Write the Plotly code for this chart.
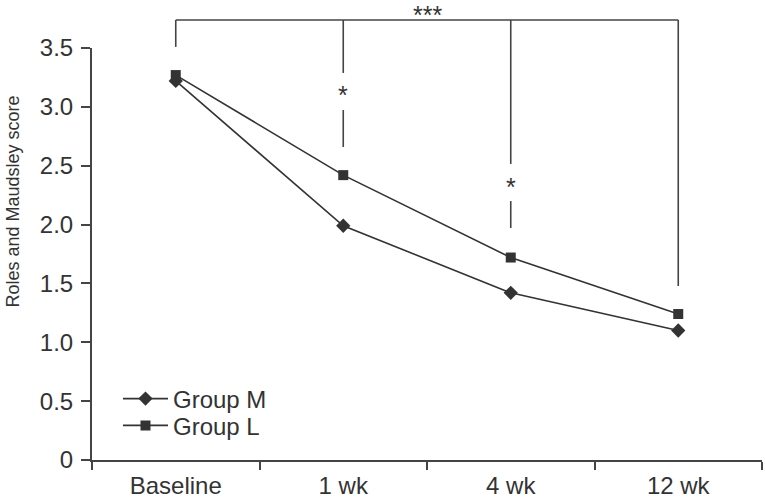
import plotly.graph_objects as go

categories = ["Baseline", "1 wk", "4 wk", "12 wk"]
group_m = [3.22, 1.99, 1.42, 1.10]
group_l = [3.27, 2.42, 1.72, 1.24]
y_tickvals = [0, 0.5, 1.0, 1.5, 2.0, 2.5, 3.0, 3.5]
y_ticktext = ["0", "0.5", "1.0", "1.5", "2.0", "2.5", "3.0", "3.5"]

Y_MAX = 3.5
INK = "#333333"
FONT = "Liberation Sans, Arial, sans-serif"

fig = go.Figure()
fig.add_trace(go.Scatter(x=categories, y=group_m, name="Group M", mode="lines+markers",
                         line=dict(color=INK, width=1.6), legend="legend",
                         marker=dict(symbol="diamond", size=11, color=INK)))
fig.add_trace(go.Scatter(x=categories, y=group_l, name="Group L", mode="lines+markers",
                         line=dict(color=INK, width=1.6), legend="legend2",
                         marker=dict(symbol="square", size=10, color=INK)))

# significance brackets (levels in data units, converted to paper fraction)
def p(v):
    return v / Y_MAX

top = 3.738
shapes = []
line_style = dict(color="#444444", width=1.6)
shapes.append(dict(type="line", xref="x", yref="paper", x0=0, x1=3, y0=p(top), y1=p(top), line=line_style))
# vertical segments: (category index, y_from, y_to)
segments = [(0, top, 3.509), (1, top, 3.288), (1, 2.973, 2.659),
            (2, top, 2.515), (2, 2.200, 1.971), (3, top, 1.478)]
for ci, a, b in segments:
    shapes.append(dict(type="line", xref="x", yref="paper", x0=ci, x1=ci, y0=p(a), y1=p(b), line=line_style))

annotations = []
annotations.append(dict(x=1.5, y=p(3.905), xref="x", yref="paper", text="***", showarrow=False,
                        borderpad=0, font=dict(family=FONT, size=25, color=INK), yanchor="top"))
stars = [(1, 3.10, "*"), (2, 2.315, "*")]
for xv, yv, txt in stars:
    annotations.append(dict(x=xv, y=p(yv), xref="x", yref="paper", text=txt, showarrow=False,
                            font=dict(family=FONT, size=25, color=INK), yanchor="middle"))
# y-axis title (sits above the axis centre in the reference)
annotations.append(dict(x=-0.118, y=0.627, xref="paper", yref="paper", text="Roles and Maudsley score",
                        textangle=-90, showarrow=False, xanchor="center", yanchor="middle",
                        font=dict(family=FONT, size=18, color=INK)))

legend_common = dict(xanchor="left", yanchor="middle", font=dict(family=FONT, size=24, color=INK),
                     bgcolor="rgba(0,0,0,0)", itemwidth=45)

fig.update_layout(
    width=765, height=499,
    margin=dict(l=92, r=3, t=48, b=39, autoexpand=False),
    paper_bgcolor="white", plot_bgcolor="white",
    font=dict(family=FONT, color=INK),
    showlegend=True,
    legend=dict(x=0.0388, y=0.148, **legend_common),
    legend2=dict(x=0.0388, y=0.083, **legend_common),
    shapes=shapes, annotations=annotations,
    xaxis=dict(type="category", range=[-0.5, 3.5], tickson="boundaries", automargin=False,
               showline=True, linecolor="#444444", linewidth=2,
               ticks="outside", ticklen=8, tickwidth=1.6, tickcolor="#444444",
               showgrid=False, zeroline=False, ticklabelstandoff=3,
               tickfont=dict(family=FONT, size=24, color=INK)),
    yaxis=dict(range=[0, Y_MAX], tickvals=y_tickvals, ticktext=y_ticktext, automargin=False,
               showline=True, linecolor="#444444", linewidth=2,
               ticks="outside", ticklen=9, tickwidth=1.6, tickcolor="#444444",
               showgrid=False, zeroline=False, ticklabelstandoff=3,
               tickfont=dict(family=FONT, size=24, color=INK)),
)

fig.write_html("out.html", config={"displayModeBar": False},
               post_script="document.body.style.margin='0';")
